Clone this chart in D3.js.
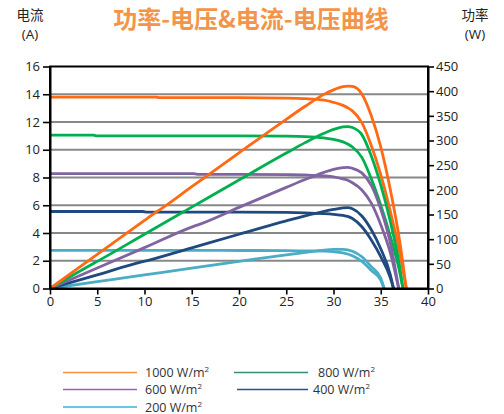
<!DOCTYPE html>
<html>
<head>
<meta charset="utf-8">
<script src="https://cdn.jsdelivr.net/npm/d3@7"></script>
<style>
    body { margin: 0; background: #fff; }
    svg text { font-family: "Open Sans", "Noto Sans CJK SC", sans-serif; }
</style>
</head>
<body>
<div id="graph-container"></div>
<script>
// irradiance series (W/m2)
const irradiance = [1000, 800, 600, 400, 200];

// voltage (V), current (A) and power (W)
const volt1000 = [0, 5, 10, 11.2, 11.6, 15, 20, 25, 27, 29, 30, 31, 31.5, 32, 33, 34, 35, 36, 37, 37.7];
const amp1000 = [13.8, 13.8, 13.8, 13.8, 13.75, 13.75, 13.75, 13.72, 13.68, 13.57, 13.42, 13.2, 13.03, 12.8, 11.95, 10.3, 8.2, 5.6, 2.6, 0];
const watt1000 = [0, 69, 138, 154.6, 159.5, 206.3, 275, 343, 369.4, 393.5, 402.6, 409.2, 410.4, 409.6, 394.4, 350.2, 287, 201.6, 96.2, 0];

const volt800 = [0, 4.6, 5, 10, 15, 20, 25, 27, 29, 30, 31, 31.5, 32, 33, 34, 35, 36, 37, 37.35];
const amp800 = [11.05, 11.05, 11.0, 11.0, 11.0, 11.0, 10.98, 10.95, 10.85, 10.75, 10.57, 10.42, 10.2, 9.45, 7.9, 6.0, 3.8, 1.2, 0];
const watt800 = [0, 50.8, 55, 110, 165, 220, 274.5, 295.7, 314.7, 322.5, 327.7, 328.2, 326.4, 311.9, 268.6, 210, 136.8, 44.4, 0];

const volt600 = [0, 5, 10, 15.2, 15.8, 20, 25, 27, 29, 30, 31, 31.5, 32, 33, 34, 35, 36, 36.9];
const amp600 = [8.28, 8.28, 8.28, 8.28, 8.22, 8.22, 8.2, 8.18, 8.12, 8.05, 7.9, 7.8, 7.62, 7.1, 6.15, 4.6, 2.6, 0];
const watt600 = [0, 41.4, 82.8, 125.9, 129.9, 164.4, 205, 220.9, 235.5, 241.5, 244.9, 245.7, 243.8, 234.3, 209.1, 161, 93.6, 0];

const volt400 = [0, 5, 9.8, 10.3, 15, 20, 25, 27, 29, 30, 31, 31.5, 32, 33, 34, 35, 36, 36.35];
const amp400 = [5.55, 5.55, 5.55, 5.5, 5.5, 5.5, 5.48, 5.45, 5.39, 5.34, 5.27, 5.2, 5.05, 4.45, 3.5, 2.3, 0.8, 0];
const watt400 = [0, 27.8, 54.4, 56.7, 82.5, 110, 137, 147.2, 156.3, 160.2, 163.4, 163.8, 161.6, 146.9, 119, 80.5, 28.8, 0];

const volt200 = [0, 5, 10, 15, 20, 25, 27, 29, 30, 31, 32, 33, 34, 35, 35.35];
const amp200 = [2.75, 2.75, 2.75, 2.75, 2.74, 2.73, 2.71, 2.69, 2.65, 2.56, 2.36, 1.95, 1.3, 0.6, 0];
const watt200 = [0, 13.75, 27.5, 41.3, 54.8, 68.3, 73.2, 78, 79.5, 79.4, 75.5, 64.4, 44.2, 21, 0];

// tick values
const xTicks = [0, 5, 10, 15, 20, 25, 30, 35, 40];
const ampTicks = [0, 2, 4, 6, 8, 10, 12, 14, 16];
const wattTicks = [0, 50, 100, 150, 200, 250, 300, 350, 400, 450];

const lineColors = ['#ff6a13', '#00b050', '#8064a2', '#1f4a80', '#4bacc6'];
const legendColors = ['#f7923f', '#3a8b73', '#a05eb5', '#2f4b9b', '#3bb0dc'];

const series = [
    { v: volt1000, i: amp1000, p: watt1000 },
    { v: volt800, i: amp800, p: watt800 },
    { v: volt600, i: amp600, p: watt600 },
    { v: volt400, i: amp400, p: watt400 },
    { v: volt200, i: amp200, p: watt200 },
];

const WIDTH = 504, HEIGHT = 414;
const margin = { top: 66.5, left: 50, right: 76, bottom: 125.5 };
const width = WIDTH - margin.left - margin.right,
    height = HEIGHT - margin.top - margin.bottom;

const svg = d3.select('#graph-container').append('svg')
    .attr('width', WIDTH)
    .attr('height', HEIGHT);

const xScale = d3.scaleLinear().domain([0, 40]).range([0, width]);
const yAmp = d3.scaleLinear().domain([0, 16]).range([height, 0]);
const yWatt = d3.scaleLinear().domain([0, 450]).range([height, 0]);

const container = svg.append('g')
    .attr('transform', `translate(${margin.left} ${margin.top})`);

// gridlines
container.append('g')
    .selectAll('line')
    .data(ampTicks.slice(1, -1))
    .join('line')
    .attr('x1', 0)
    .attr('x2', width)
    .attr('y1', (d) => yAmp(d))
    .attr('y2', (d) => yAmp(d))
    .attr('stroke', '#888')
    .attr('stroke-width', 2);

const ivLine = (s) => d3.line()
    .x((d, k) => xScale(s.v[k]))
    .y((d) => yAmp(d))
    .curve(d3.curveMonotoneX)(s.i);

const pvLine = (s) => d3.line()
    .x((d, k) => xScale(s.v[k]))
    .y((d) => yWatt(d))
    .curve(d3.curveMonotoneX)(s.p);

// draw lowest irradiance first so the top curves sit above
const order = [4, 3, 2, 1, 0];
container.append('g')
    .selectAll('path')
    .data(order)
    .join('path')
    .attr('d', (k) => ivLine(series[k]))
    .attr('fill', 'none')
    .attr('stroke', (k) => lineColors[k])
    .attr('stroke-width', 2.8)
    .attr('stroke-linejoin', 'round');

container.append('g')
    .selectAll('path')
    .data(order)
    .join('path')
    .attr('d', (k) => pvLine(series[k]))
    .attr('fill', 'none')
    .attr('stroke', (k) => lineColors[k])
    .attr('stroke-width', 2.8)
    .attr('stroke-linejoin', 'round');

// frame
container.append('rect')
    .attr('width', width)
    .attr('height', height)
    .attr('fill', 'none')
    .attr('stroke', '#000')
    .attr('stroke-width', 2);

const styleAxis = (g) => {
    g.select('.domain').attr('stroke', '#000').attr('stroke-width', 2);
    g.selectAll('.tick line').attr('stroke', '#000').attr('stroke-width', 1.6);
    g.selectAll('.tick text')
        .attr('fill', '#222')
        .style('font-size', '13px');
};

container.append('g')
    .call(d3.axisLeft(yAmp).tickValues(ampTicks).tickSize(7).tickPadding(3).tickSizeOuter(0))
    .call(styleAxis);

container.append('g')
    .attr('transform', `translate(${width}, 0)`)
    .call(d3.axisRight(yWatt).tickValues(wattTicks).tickSize(6).tickPadding(2).tickSizeOuter(0))
    .call(styleAxis);

container.append('g')
    .attr('transform', `translate(0, ${height})`)
    .call(d3.axisBottom(xScale).tickValues(xTicks).tickSize(6).tickPadding(2).tickSizeOuter(0))
    .call(styleAxis);

// titles
svg.append('text')
    .attr('x', 251)
    .attr('y', 28)
    .attr('text-anchor', 'middle')
    .attr('fill', '#f2954a')
    .style('font-family', '"Noto Sans CJK SC", sans-serif')
    .style('font-weight', 700)
    .style('font-size', '24px')
    .text('功率-电压&电流-电压曲线');

const axisTitle = (x, top, bottom) => {
    svg.append('text')
        .attr('x', x)
        .attr('y', 20)
        .attr('text-anchor', 'middle')
        .attr('fill', '#222')
        .style('font-family', '"Noto Sans CJK SC", sans-serif')
        .style('font-size', '13.5px')
        .text(top);
    svg.append('text')
        .attr('x', x)
        .attr('y', 38.5)
        .attr('text-anchor', 'middle')
        .attr('fill', '#222')
        .style('font-size', '13.5px')
        .text(bottom);
};
axisTitle(30, '电流', '(A)');
axisTitle(475, '功率', '(W)');

// legend
const legendPos = [
    { x1: 63, x2: 137, y: 372.5, tx: 145 },
    { x1: 234, x2: 308, y: 372.5, tx: 318 },
    { x1: 63, x2: 137, y: 389.5, tx: 145 },
    { x1: 237, x2: 308, y: 389.5, tx: 313 },
    { x1: 63, x2: 137, y: 407, tx: 145 },
];

const legend = svg.append('g')
    .selectAll('g')
    .data(irradiance)
    .join('g');

legend.append('line')
    .attr('x1', (d, k) => legendPos[k].x1)
    .attr('x2', (d, k) => legendPos[k].x2)
    .attr('y1', (d, k) => legendPos[k].y)
    .attr('y2', (d, k) => legendPos[k].y)
    .attr('stroke', (d, k) => legendColors[k])
    .attr('stroke-width', 1.6);

const legendText = legend.append('text')
    .attr('x', (d, k) => legendPos[k].tx)
    .attr('y', (d, k) => legendPos[k].y + 4.5)
    .attr('fill', '#333')
    .style('font-size', '12.5px');
legendText.append('tspan').text((d) => `${d} W/m`);
legendText.append('tspan')
    .attr('dy', -5)
    .style('font-size', '8px')
    .text('2');
</script>
</body>
</html>
